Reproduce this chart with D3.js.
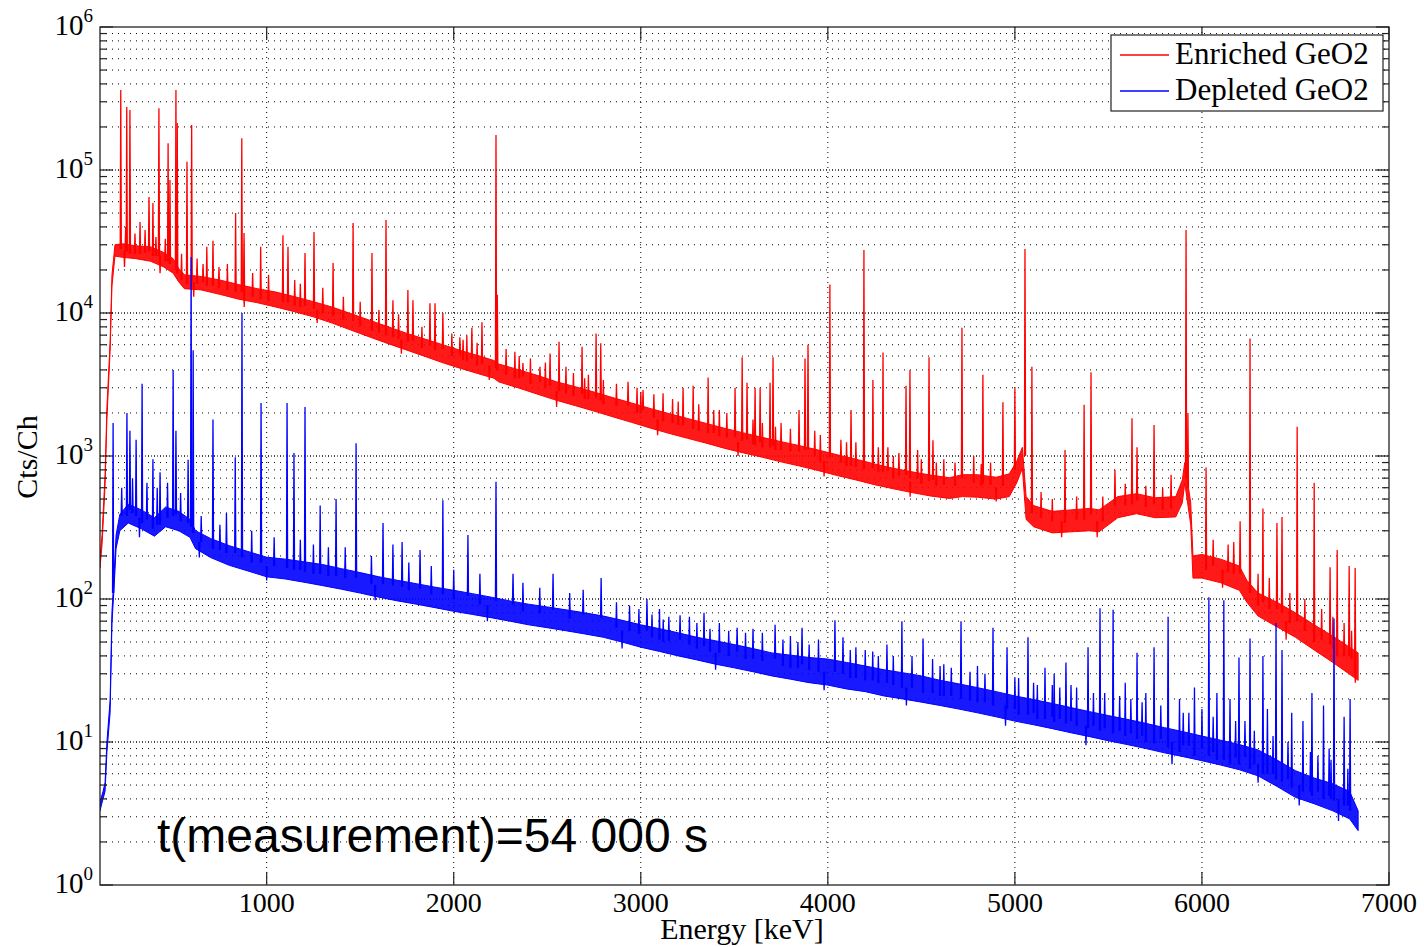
<!DOCTYPE html>
<html>
<head>
<meta charset="utf-8">
<script src="https://cdn.jsdelivr.net/npm/d3@7"></script>
<style>
  body { margin: 0; background: #fff; }
  .serif { font-family: "Liberation Serif", "Times New Roman", serif; fill: #000; }
  .grid-minor { stroke: #000; stroke-width: 1; stroke-dasharray: 1,5; }
  .grid-major { stroke: #000; stroke-width: 1; stroke-dasharray: 1,2; }
  .frame { stroke: #222; stroke-width: 1.3; fill: none; }
  .tick { stroke: #222; stroke-width: 1.2; }
</style>
</head>
<body>
<div class="chart"></div>
<script>
// Energy axis ticks and log decades
var xTickValues = [1000, 2000, 3000, 4000, 5000, 6000, 7000];
var yDecadeExponents = [0, 1, 2, 3, 4, 5, 6];
var seriesNames = ["Enriched GeO2", "Depleted GeO2"];
var seriesColors = ["#ff0000", "#0000ff"];
var annotation = "t(measurement)=54 000 s";

// Enriched GeO2: continuum band [keV, low, high]
var enrichedBand = [
  [109,165,195],[120,240,280],[136,620,740],[146,1800,2200],[157,3700,4300],[163,5400,6300],
  [173,15500,18500],[189,25000,30000],[230,24500,30500],[300,24000,29500],[380,23000,29000],
  [450,21000,26500],[500,19000,24000],[530,16500,20500],[560,14800,18500],[650,14500,18000],
  [750,13500,17000],[850,12500,15800],[950,11800,14800],[1050,11000,14000],[1150,10200,13000],
  [1250,9400,12000],[1350,8500,11000],[1450,7600,9900],[1550,6800,8900],[1650,6100,8000],
  [1750,5500,7200],[1850,4950,6550],[1950,4450,5950],[2050,4050,5400],[2150,3700,4950],
  [2215,3500,4650],[2240,3300,4400],[2350,2980,4000],[2450,2700,3650],[2550,2450,3300],
  [2650,2250,3050],[2750,2060,2800],[2850,1880,2560],[2950,1720,2350],[3050,1570,2150],
  [3150,1440,1980],[3250,1330,1830],[3350,1230,1690],[3450,1130,1560],[3550,1050,1450],
  [3650,980,1350],[3750,910,1260],[3850,850,1180],[3950,790,1100],[4050,730,1020],
  [4150,680,950],[4250,630,880],[4350,590,820],[4450,555,775],[4550,525,735],
  [4650,505,705],[4720,520,740],[4800,515,740],[4900,500,710],[4970,520,750],
  [5010,650,920],[5040,820,1150],[5060,360,520],[5100,320,450],[5200,290,410],
  [5300,295,420],[5400,300,430],[5450,295,420],[5550,370,520],[5650,395,545],
  [5750,370,510],[5860,375,520],[5895,470,680],[5908,650,900],[5940,330,470],
  [5952,140,200],[6000,140,205],[6100,130,190],[6200,115,170],[6240,95,135],
  [6300,76,110],[6400,64,95],[6500,54,80],[6600,44,66],[6700,36,55],[6835,27,42]
];
// Enriched GeO2 gamma lines [keV, base, top]
var enrichedPeaks = [
  [220,28000,362000],[252,27000,276000],[269,26000,263000],[323,26000,43300],[371,27000,64800],
  [392,25000,58800],[424,25000,270000],[473,23000,154000],[483,22000,85000],[515,20000,362000],
  [522,19000,213000],[574,16000,114000],[599,16500,206000],[680,15500,29000],[713,15500,32000],
  [834,14000,50000],[867,14000,167000],[879,13800,36300],[968,12500,29000],[1087,12000,35000],
  [1114,11800,29000],[1205,11200,26300],[1253,10700,36800],[1355,9500,22400],[1462,8800,42600],
  [1563,7500,26300],[1638,7000,44700],[1675,6800,12300],[1755,6300,14500],[1782,6400,12300],
  [1873,5900,11700],[1900,5500,11700],[1942,5600,10000],[2033,5100,6770],[2097,4800,7900],
  [2151,4400,8600],[2226,4100,176000],[2233,4000,13400],[2327,3500,5350],[2370,3600,4460],
  [2461,3300,4200],[2515,3100,5200],[2563,2850,6300],[2686,2700,5800],[2761,2550,7200],
  [2786,2450,6150],[2932,2250,3300],[3012,2100,2890],[3119,1750,2750],[3226,1650,3000],
  [3280,1550,3100],[3360,1450,3540],[3504,1350,3000],[3542,1280,4900],[3568,1300,3250],
  [3611,1200,3000],[3638,1250,3000],[3691,1150,3250],[3707,1180,4900],[3846,1080,2100],
  [3878,1100,4800],[3894,1110,6000],[4011,980,15800],[4124,850,2100],[4193,810,27600],
  [4241,820,3400],[4295,780,5300],[4321,790,1150],[4418,740,3100],[4439,700,4000],
  [4541,670,4900],[4562,680,1290],[4717,700,7900],[4829,640,3700],[4936,620,2380],
  [5000,800,3000],[5054,1000,28000],[5091,400,4200],[5268,340,1100],[5370,360,2280],
  [5407,390,3850],[5535,450,800],[5626,460,1840],[5653,490,1150],[5744,460,1650],
  [5835,430,740],[5915,700,38000],[5925,600,2000],[6022,160,830],[6204,150,350],
  [6257,110,6630],[6326,95,430],[6401,85,340],[6428,80,375],[6509,70,1600],
  [6600,50,650],[6685,48,167],[6723,40,220],[6787,40,170],[6819,30,165]
];
// Enriched GeO2 small noise excursions off the band [keV, base, tip]
var enrichedJitter = [
  [246,27000,40000],[296,26000,36000],[350,26500,38000],[408,25000,34000],[458,23000,33000],
  [545,17000,26000],[628,16000,24000],[660,16500,22000],[745,15000,21000],[790,14500,22000],
  [925,13000,19000],[1010,12200,18500],[1150,11300,17000],[1180,11000,16000],[1300,10000,15000],
  [1410,9000,13000],[1500,8100,12000],[1600,7300,10500],[1705,6600,9800],[1830,5700,8000],
  [1990,5000,7200],[2050,4700,6500],[2070,4600,7000],[2125,4300,6200],[2280,3700,5600],
  [2350,3500,5000],[2410,3200,4800],[2490,3000,4500],[2600,2750,4200],[2640,2650,3800],
  [2700,2500,3500],[2720,2500,3700],[2800,2300,3400],[2870,2250,3200],[2980,2000,3000],
  [3000,2000,2800],[3070,1850,2700],[3170,1700,2500],[3200,1650,2400],[3310,1500,2300],
  [3390,1450,2100],[3420,1380,2100],[3460,1350,2000],[3600,1210,1800],[3650,1150,1700],
  [3720,1100,1600],[3750,1100,1700],[3800,1080,1550],[3930,1000,1500],[3960,920,1400],
  [4070,900,1300],[4100,850,1250],[4150,840,1250],[4270,780,1150],[4350,700,1000],
  [4380,730,1050],[4480,700,1100],[4500,640,950],[4580,620,900],[4620,630,950],
  [4680,620,900],[4780,650,1000],[4820,620,880],[4870,630,900],[5140,370,560],
  [5200,350,500],[5330,360,520],[5470,350,520],[5590,450,640],[5700,440,620],
  [5790,420,600],[6060,170,260],[6140,155,240],[6170,150,250],[6300,90,150],
  [6360,85,140],[6470,68,110],[6550,60,100],[6640,52,85],[6700,45,75],
  [6760,40,68],[6800,38,60],
  [240,27000,21000],[430,25000,19000],[610,16500,13000],[880,14000,11000],[1270,10500,8500],
  [1720,6500,5200],[2190,4300,3400],[2550,2850,2200],[3090,1800,1400],[3520,1250,1000],
  [3980,920,720],[4440,660,520],[4900,600,480],[5250,350,270],[5440,350,270],
  [6110,160,120],[6450,70,52],[6820,34,26]
];

// Depleted GeO2: continuum band [keV, low, high]
var depletedBand = [
  [109,3.3,3.8],[125,4.0,4.5],[136,4.5,5.2],[146,8.5,10],[163,16,19.5],[173,68,82],
  [184,118,145],[195,225,280],[215,300,390],[260,340,460],[330,310,420],[400,275,370],
  [460,320,440],[530,300,410],[590,270,360],[620,225,300],[700,195,265],[800,172,236],
  [900,157,215],[1000,143,196],[1100,138,190],[1200,131,182],[1300,124,174],[1400,117,163],
  [1500,110,153],[1600,103,143],[1700,97,135],[1800,92,128],[1900,87,121],[2000,82,115],
  [2100,78,109],[2200,74,103],[2300,70,97],[2400,66,92],[2500,63,88],[2600,60,84],
  [2700,57,80],[2800,54,76],[2900,50,71],[3000,46,66],[3100,43,62],[3200,40,58],
  [3300,37.5,54],[3400,35,51],[3500,33,48],[3600,31,45],[3700,29,42],[3800,27.5,40.5],
  [3900,26,39],[4000,25,38],[4100,23.5,36],[4200,22.5,34],[4300,21,32],[4400,20,30.5],
  [4500,19,29],[4600,18,27],[4700,17,25.5],[4800,16,24],[4900,15,22.5],[5000,14,21],
  [5100,13.2,19.8],[5200,12.4,18.6],[5300,11.6,17.4],[5400,10.9,16.3],[5500,10.2,15.3],
  [5600,9.6,14.4],[5700,9,13.5],[5800,8.4,12.6],[5900,7.9,11.8],[6000,7.4,11],
  [6100,6.9,10.3],[6200,6.4,9.6],[6300,5.8,8.8],[6400,4.9,7.5],[6500,4.1,6.3],
  [6600,3.7,5.6],[6700,3.3,5.1],[6790,2.9,4.5],[6835,2.4,3.3]
];
// Depleted GeO2 gamma lines [keV, base, top]
var depletedPeaks = [
  [179,110,1700],[253,380,2000],[269,420,1500],[302,380,1300],[334,340,3200],[392,310,950],
  [430,330,770],[500,380,4000],[515,390,1500],[580,340,940],[596,320,24600],[607,290,5500],
  [713,225,1800],[832,210,980],[868,195,10000],[970,180,2350],[1109,165,2350],[1146,160,1050],
  [1205,155,2200],[1286,150,450],[1371,145,500],[1478,140,1230],[1622,128,340],[1675,125,240],
  [1724,122,250],[1820,118,220],[1942,108,490],[2076,105,280],[2226,97,660],[2317,92,150],
  [2531,84,150],[2692,78,116],[2788,74,140],[3033,60,100],[3210,52,77],[3338,47,80],
  [3515,43,63],[3718,38,66],[3862,35,63],[4038,31,71],[4081,30,54],[4316,26,48],
  [4396,24,70],[4509,22,53],[4712,20,70],[4883,18,63],[4958,17,46],[5020,15.5,28],
  [5070,15.5,54],[5120,14.5,25],[5161,14.5,33],[5210,13.8,30],[5273,13.5,36],[5330,13,24],
  [5391,12.5,46],[5455,12,86],[5525,11.5,84],[5590,11,26],[5653,10.5,42],[5700,10,22],
  [5744,9.8,46],[5819,9.2,75],[5880,8.5,20],[5960,8,24],[6037,8,103],[6080,7.5,22],
  [6117,7.5,98],[6150,7,20],[6198,7,39],[6257,6.5,53],[6326,6,40],[6350,6,17],
  [6396,5.5,68],[6428,5.3,44],[6480,4.8,16],[6540,4.5,14],[6588,4.2,22],[6650,4,18],
  [6706,3.9,73],[6760,3.6,15],[6792,3.3,20]
];
// Depleted GeO2 small noise excursions [keV, base, tip]
var depletedJitter = [
  [225,380,600],[283,400,700],[360,360,650],[415,330,600],[470,370,650],[540,350,550],
  [650,250,380],[750,220,330],[785,210,400],[920,180,300],[1040,170,270],[1180,160,260],
  [1250,150,240],[1330,145,230],[1420,140,230],[1560,128,200],[1760,115,180],[1880,108,170],
  [2000,100,160],[2140,92,150],[2370,82,130],[2460,80,120],[2620,73,110],[2870,63,95],
  [2940,60,90],[2990,57,85],[3060,54,78],[3100,52,85],[3120,50,72],[3150,51,75],
  [3260,48,75],[3300,45,68],[3370,43,62],[3420,42,68],[3470,40,60],[3560,38,58],
  [3600,38,62],[3650,37,58],[3760,34,52],[3800,33,55],[3840,33,50],[3900,32,48],
  [3950,31,52],[4120,28,44],[4150,28,46],[4200,27,44],[4240,27,43],[4270,26,40],
  [4350,25,40],[4450,24,40],[4560,22,38],[4600,21,34],[4620,21,35],[4660,21,33],
  [4760,19.5,31],[4800,19,34],[4840,19,30],[5000,17,28],[5100,16,26],[5200,15,25],
  [5240,14.5,24],[5300,14,25],[5420,13,22],[5480,12.5,22],[5560,12,21],[5620,11.5,20],
  [5680,11,19],[5780,10.5,18],[5900,9.5,16],[5930,9.4,16],[6000,9,17],[6060,8.5,15],
  [6180,7.8,14],[6230,7.9,14],[6280,7,12],[6380,6,11],[6460,5.5,10],[6580,4.5,8.5],
  [6620,4.5,8],[6680,4.2,9],[6690,4,7.5],[6780,3.6,6.5],
  [320,370,270],[640,250,195],[1000,170,135],[1580,125,98],[2180,90,70],[2900,60,45],
  [3400,42,32],[3980,31,23],[4420,24,18],[4950,18,13],[5380,13,9.5],[5840,10,7],
  [6300,7,5.2],[6520,5,3.6],[6730,4,2.8]
];

var margin = { top: 27, left: 100, right: 35, bottom: 62 };
var options = { width: 1424, height: 947 };
var innerW = options.width - margin.left - margin.right;
var innerH = options.height - margin.top - margin.bottom;

var xScale = d3.scaleLinear().domain([109, 7000]).range([0, innerW]);
var yScale = d3.scaleLog().domain([1, 1e6]).range([innerH, 0]);

var series = [
  { band: enrichedBand, peaks: enrichedPeaks.concat(enrichedJitter), color: seriesColors[0] },
  { band: depletedBand, peaks: depletedPeaks.concat(depletedJitter), color: seriesColors[1] }
];

var svg = d3.select(".chart").append("svg")
    .attr("width", options.width)
    .attr("height", options.height);

var plot = svg.append("g")
    .attr("transform", "translate(" + margin.left + "," + margin.top + ")");

// minor log values 1..9 per decade
var minorValues = [];
yDecadeExponents.slice(0, -1).forEach(function(k) {
  for (var m = 1; m <= 9; m++) minorValues.push(m * Math.pow(10, k));
});
minorValues.push(1e6);
var decadeValues = yDecadeExponents.map(function(k) { return Math.pow(10, k); });

// grid
var grid = plot.append("g");
grid.selectAll(".grid-minor.h").data(minorValues.filter(function(v) { return v > 1 && v < 1e6; }))
  .enter().append("line")
    .attr("class", "grid-minor h")
    .attr("x1", 0).attr("x2", innerW)
    .attr("y1", function(d) { return yScale(d); })
    .attr("y2", function(d) { return yScale(d); });
grid.selectAll(".grid-major.h").data(decadeValues.slice(1, -1))
  .enter().append("line")
    .attr("class", "grid-major h")
    .attr("x1", 0).attr("x2", innerW)
    .attr("y1", function(d) { return yScale(d); })
    .attr("y2", function(d) { return yScale(d); });
grid.selectAll(".grid-minor.v").data(xTickValues.slice(0, -1))
  .enter().append("line")
    .attr("class", "grid-minor v")
    .style("stroke-dasharray", "1,4")
    .attr("y1", 0).attr("y2", innerH)
    .attr("x1", function(d) { return xScale(d); })
    .attr("x2", function(d) { return xScale(d); });

// spectra: continuum band + gamma lines + noise excursions
svg.append("defs").append("clipPath").attr("id", "clip")
  .append("rect").attr("width", innerW).attr("height", innerH);

var band = d3.area()
    .x(function(d) { return xScale(d[0]); })
    .y0(function(d) { return yScale(d[1]); })
    .y1(function(d) { return yScale(d[2]); });

var spike = d3.line()
    .x(function(d) { return xScale(d[0]); })
    .y(function(d) { return yScale(d[1]); });

var spectra = plot.append("g").attr("clip-path", "url(#clip)");
series.forEach(function(s) {
  var g = spectra.append("g");
  g.append("path")
      .attr("d", band(s.band))
      .attr("fill", s.color)
      .attr("fill-opacity", 0.9)
      .attr("stroke", s.color)
      .attr("stroke-width", 1);
  g.selectAll(".spike").data(s.peaks)
    .enter().append("path")
      .attr("class", "spike")
      .attr("d", function(p) { return spike([[p[0] - 3, p[1]], [p[0], p[2]], [p[0] + 3, p[1]]]); })
      .attr("fill", s.color)
      .attr("stroke", s.color)
      .attr("stroke-width", 1.3);
});

// frame and ticks (box with inward ticks on all sides)
plot.append("rect").attr("class", "frame").attr("width", innerW).attr("height", innerH);

var ticks = plot.append("g");
xTickValues.forEach(function(v) {
  var x = xScale(v);
  ticks.append("line").attr("class", "tick").attr("x1", x).attr("x2", x).attr("y1", innerH).attr("y2", innerH - 13);
  ticks.append("line").attr("class", "tick").attr("x1", x).attr("x2", x).attr("y1", 0).attr("y2", 13);
});
minorValues.forEach(function(v) {
  var y = yScale(v);
  var len = decadeValues.indexOf(v) >= 0 ? 13 : 7;
  ticks.append("line").attr("class", "tick").attr("x1", 0).attr("x2", len).attr("y1", y).attr("y2", y);
  ticks.append("line").attr("class", "tick").attr("x1", innerW).attr("x2", innerW - len).attr("y1", y).attr("y2", y);
});

// tick labels
plot.append("g").selectAll("text").data(xTickValues)
  .enter().append("text")
    .attr("class", "serif")
    .attr("x", function(d) { return xScale(d); })
    .attr("y", innerH + 27)
    .attr("text-anchor", "middle")
    .style("font-size", "28px")
    .text(function(d) { return d; });

var yLabels = plot.append("g").selectAll("text").data(yDecadeExponents)
  .enter().append("text")
    .attr("class", "serif")
    .attr("x", -7)
    .attr("y", function(d) { return yScale(Math.pow(10, d)) + 8; })
    .attr("text-anchor", "end")
    .style("font-size", "29px");
yLabels.append("tspan").text("10");
yLabels.append("tspan").attr("dy", -13).style("font-size", "19px").text(function(d) { return d; });

// axis titles
svg.append("text")
    .attr("class", "serif")
    .attr("x", 742).attr("y", 939)
    .attr("text-anchor", "middle")
    .style("font-size", "30px")
    .text("Energy [keV]");
svg.append("text")
    .attr("class", "serif")
    .attr("transform", "translate(37,457) rotate(-90)")
    .attr("text-anchor", "middle")
    .style("font-size", "30px")
    .text("Cts/Ch");

// legend
var legend = svg.append("g").attr("transform", "translate(1111,35)");
legend.append("rect")
    .attr("width", 272).attr("height", 76)
    .attr("fill", "#fff").attr("stroke", "#222").attr("stroke-width", 1.2);
seriesNames.forEach(function(name, i) {
  var ly = 20 + i * 36;
  legend.append("line")
      .attr("x1", 9).attr("x2", 58).attr("y1", ly).attr("y2", ly)
      .attr("stroke", seriesColors[i]).attr("stroke-width", 1.3);
  legend.append("text")
      .attr("class", "serif")
      .attr("x", 64).attr("y", ly + 9)
      .style("font-size", "31px")
      .text(name);
});

// measurement time note
svg.append("text")
    .attr("x", 157).attr("y", 852)
    .style("font-family", "'Liberation Sans', Arial, sans-serif")
    .style("font-size", "48px")
    .text(annotation);
</script>
</body>
</html>
